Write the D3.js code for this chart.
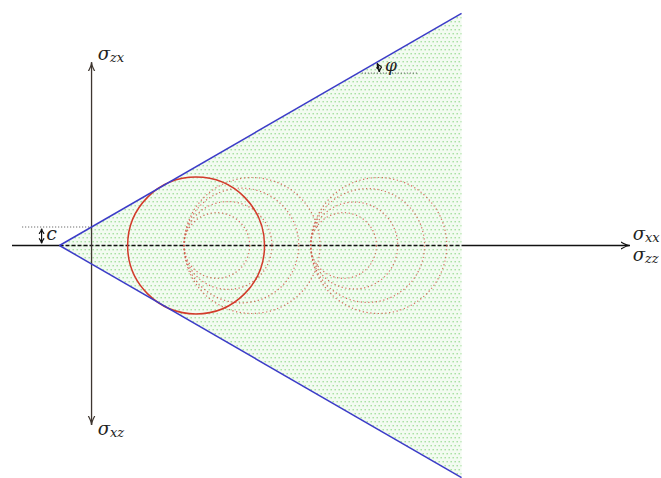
<!DOCTYPE html>
<html>
<head>
<meta charset="utf-8">
<script src="https://cdn.jsdelivr.net/npm/d3@7"></script>
<style>
  html, body { margin: 0; padding: 0; background: #fff; }
  svg { display: block; }
</style>
</head>
<body>
<svg id="chart" width="661" height="478"></svg>
<script>
// Mohr–Coulomb failure envelope with Mohr circles
const cohesion = 1.0;            // c, intercept on the shear axis
const frictionAngle = 30;        // φ in degrees
const envelopeEnd = 20;          // σ where the admissible region is cut off
const normalAxisRange = [-4.3, 29.1];
const shearAxisRange = [-9.7, 9.9];
const failureCircle = [1.95, 9.35];                  // [σ3, σ1] touching the envelope
const trialSigma3 = [5.0, 11.85];                    // common left point of each family
const trialSigma1 = [[12.35, 11.2, 9.75, 8.55],      // first family of trial circles
                     [19.2, 18.0, 16.55, 15.4]];     // second family of trial circles
const normalLabels = [["σ", "xx"], ["σ", "zz"]];
const shearLabels = [["σ", "zx"], ["σ", "xz"]];
const cohesionLabel = "c";
const angleLabel = "φ";

const FONT = "'DejaVu Serif', 'Liberation Serif', serif";
const svg = d3.select("#chart");
const x = d3.scaleLinear().domain([-4.3, 29.1]).range([12, 629.9]);
const y = d3.scaleLinear().domain([-12.5, 12.5]).range([476.75, 14.25]);

const tanPhi = Math.tan(frictionAngle * Math.PI / 180);
const apex = -cohesion / tanPhi;
const tauEnd = cohesion + envelopeEnd * tanPhi;

const defs = svg.append("defs");
const pat = defs.append("pattern").attr("id", "dots")
  .attr("patternUnits", "userSpaceOnUse").attr("width", 4).attr("height", 8);
pat.append("rect").attr("width", 4).attr("height", 8).attr("fill", "#f3fbf1");
pat.append("rect").attr("x", 0.5).attr("y", 1).attr("width", 1.4).attr("height", 1.4).attr("fill", "#a2df9c");
pat.append("rect").attr("x", 2.5).attr("y", 5).attr("width", 1.4).attr("height", 1.4).attr("fill", "#a2df9c");

function marker(id, color, len, half) {
  defs.append("marker").attr("id", id)
    .attr("viewBox", `${-len} ${-half - 1} ${len + 2} ${2 * half + 2}`)
    .attr("refX", 0).attr("refY", 0)
    .attr("markerWidth", len + 2).attr("markerHeight", 2 * half + 2)
    .attr("markerUnits", "userSpaceOnUse")
    .attr("orient", "auto-start-reverse")
    .append("path")
    .attr("d", `M${-len},${-half} Q${-len * 0.35},0 0,0 Q${-len * 0.35},0 ${-len},${half}`)
    .attr("fill", "none").attr("stroke", color).attr("stroke-width", 1.2);
}
marker("arrK", "#111", 9, 3.5);
marker("arrV", "#3e3630", 9, 3.2);
marker("arrS", "#111", 5, 2.5);

// admissible (shaded) region between the two envelope branches
const region = [[apex, 0], [envelopeEnd, tauEnd], [envelopeEnd, -tauEnd]];
svg.append("path")
  .attr("d", d3.line().x(d => x(d[0])).y(d => y(d[1]))(region) + "Z")
  .attr("fill", "url(#dots)");

// normal-stress axis: solid outside the region, dashed inside
svg.append("line")
  .attr("x1", x(normalAxisRange[0])).attr("x2", x(apex))
  .attr("y1", y(0)).attr("y2", y(0))
  .attr("stroke", "#111").attr("stroke-width", 1.3);
svg.append("line")
  .attr("x1", x(apex)).attr("x2", x(envelopeEnd))
  .attr("y1", y(0)).attr("y2", y(0))
  .attr("stroke", "#111").attr("stroke-width", 1.3).attr("stroke-dasharray", "4,2");
svg.append("line")
  .attr("x1", x(envelopeEnd)).attr("x2", x(normalAxisRange[1]))
  .attr("y1", y(0)).attr("y2", y(0))
  .attr("stroke", "#111").attr("stroke-width", 1.3)
  .attr("marker-end", "url(#arrK)");

// shear-stress axis
svg.append("line")
  .attr("x1", x(0)).attr("x2", x(0))
  .attr("y1", y(shearAxisRange[0])).attr("y2", y(shearAxisRange[1]))
  .attr("stroke", "#3e3630").attr("stroke-width", 1.3)
  .attr("marker-start", "url(#arrV)").attr("marker-end", "url(#arrV)");

// trial Mohr circles (dotted)
const trial = [];
trialSigma3.forEach((s3, i) => trialSigma1[i].forEach(s1 => trial.push([s3, s1])));
svg.append("g").selectAll("circle").data(trial).join("circle")
  .attr("cx", d => x((d[0] + d[1]) / 2))
  .attr("cy", y(0))
  .attr("r", d => x(d[1]) - x((d[0] + d[1]) / 2))
  .attr("fill", "none").attr("stroke", "#cf5242").attr("stroke-opacity", 0.85)
  .attr("stroke-width", 1.2).attr("stroke-dasharray", "1.2,2.6");

// failure circle (solid)
svg.append("circle")
  .attr("cx", x((failureCircle[0] + failureCircle[1]) / 2))
  .attr("cy", y(0))
  .attr("r", x(failureCircle[1]) - x((failureCircle[0] + failureCircle[1]) / 2))
  .attr("fill", "none").attr("stroke", "#d23a2a").attr("stroke-width", 1.5);

// envelope branches
[1, -1].forEach(s => {
  svg.append("line")
    .attr("x1", x(apex)).attr("y1", y(0))
    .attr("x2", x(envelopeEnd)).attr("y2", y(s * tauEnd))
    .attr("stroke", "#3c3cc8").attr("stroke-width", 1.5);
});

// cohesion marker
svg.append("line")
  .attr("x1", x(-3.75)).attr("x2", x(0))
  .attr("y1", y(cohesion)).attr("y2", y(cohesion))
  .attr("stroke", "#222").attr("stroke-width", 0.8).attr("stroke-dasharray", "1,2");
svg.append("line")
  .attr("x1", x(-2.7)).attr("x2", x(-2.7))
  .attr("y1", y(0.12)).attr("y2", y(cohesion - 0.1))
  .attr("stroke", "#111").attr("stroke-width", 1.2)
  .attr("marker-start", "url(#arrS)").attr("marker-end", "url(#arrS)");
svg.append("text")
  .attr("font-family", FONT).attr("font-style", "italic").attr("fill", "#222")
  .attr("x", x(-2.45)).attr("y", y(0.3))
  .attr("font-size", 19).text(cohesionLabel);

// friction-angle marker
const tauPhi = 9.32;
const sPhi = (tauPhi - cohesion) / tanPhi;
svg.append("line")
  .attr("x1", x(sPhi + 0.2)).attr("x2", x(sPhi + 3.2))
  .attr("y1", y(tauPhi)).attr("y2", y(tauPhi))
  .attr("stroke", "#222").attr("stroke-width", 0.8).attr("stroke-dasharray", "1,2");
const rArc = x(sPhi + 1.15) - x(sPhi);
const cxA = x(sPhi), cyA = y(tauPhi);
const a0 = 0, a1 = frictionAngle * Math.PI / 180;
svg.append("path")
  .attr("d", `M${cxA + rArc * Math.cos(a0 + 0.05)},${cyA - rArc * Math.sin(a0 + 0.05)} A${rArc},${rArc} 0 0 0 ${cxA + rArc * Math.cos(a1 - 0.05)},${cyA - rArc * Math.sin(a1 - 0.05)}`)
  .attr("fill", "none").attr("stroke", "#111").attr("stroke-width", 1.2)
  .attr("marker-start", "url(#arrS)").attr("marker-end", "url(#arrS)");
svg.append("text")
  .attr("font-family", FONT).attr("font-style", "italic").attr("fill", "#222")
  .attr("x", x(sPhi + 1.45)).attr("y", y(tauPhi + 0.1))
  .attr("font-size", 17).text(angleLabel);

// axis labels
function sub(px, py, parts) {
  const t = svg.append("text").attr("x", px).attr("y", py)
    .attr("font-family", FONT).attr("font-style", "italic").attr("fill", "#222");
  t.append("tspan").attr("font-size", 18).text(parts[0]);
  t.append("tspan").attr("font-size", 13).attr("dy", 2).text(parts[1]);
}
sub(x(0.33), y(10.05), shearLabels[0]);
sub(x(0.33), y(-10.25), shearLabels[1]);
sub(x(29.25), y(0.3), normalLabels[0]);
sub(x(29.25), y(-0.85), normalLabels[1]);
</script>
</body>
</html>
